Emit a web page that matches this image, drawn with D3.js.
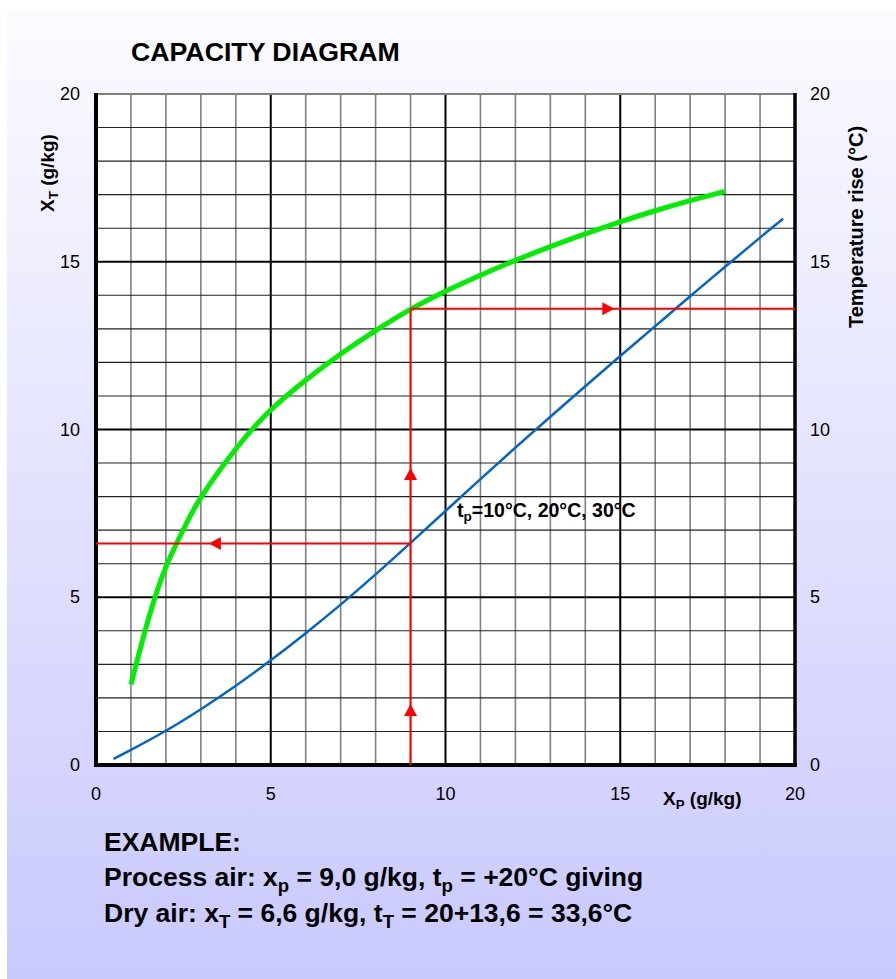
<!DOCTYPE html>
<html>
<head>
<meta charset="utf-8">
<script src="https://cdn.jsdelivr.net/npm/d3@7"></script>
<style>
  html, body { margin: 0; padding: 0; background: #fff; }
  svg { display: block; font-family: Arial, "Liberation Sans", sans-serif; }
</style>
</head>
<body>
<script>
// data
const greenX = [1, 1.5, 2, 2.5, 3, 4, 5, 6, 7, 8, 9, 10, 11, 12, 13, 14, 15, 16, 17, 18];
const greenY = [2.4, 4.35, 5.9, 7.02, 7.97, 9.42, 10.58, 11.47, 12.25, 12.95, 13.58, 14.12, 14.6, 15.04, 15.45, 15.83, 16.19, 16.52, 16.82, 17.1];

const blueX = [0.5, 1, 2, 3, 4, 5, 6, 7, 8, 9, 10, 11, 12, 13, 14, 15, 16, 17, 18, 19, 19.66];
const blueY = [0.18, 0.45, 1.02, 1.66, 2.36, 3.12, 3.93, 4.78, 5.68, 6.62, 7.57, 8.52, 9.46, 10.38, 11.29, 12.19, 13.08, 13.97, 14.85, 15.72, 16.28];

// example reading: x_p = 9.0 -> x_T = 6.6, temperature rise 13.6
const exampleXp = 9;
const exampleXt = 6.6;
const exampleRise = 13.6;
// arrowheads [x, y, direction]
const arrows = [[9, 1.82, "up"], [9, 8.85, "up"], [3.23, 6.6, "left"], [14.83, 13.6, "right"]];

const xTicks = [0, 5, 10, 15, 20];
const yTicks = [0, 5, 10, 15, 20];

const width = 896, height = 979;
const marginLeft = 96, marginRight = 101, marginTop = 94, marginBottom = 214;

const svg = d3.select("body").append("svg")
  .attr("width", width)
  .attr("height", height)
  .attr("viewBox", [0, 0, width, height]);

// background gradient
const grad = svg.append("defs").append("linearGradient")
  .attr("id", "bg").attr("x1", 0).attr("y1", 0).attr("x2", 0).attr("y2", 1);
grad.append("stop").attr("offset", "0%").attr("stop-color", "#fbfbff");
grad.append("stop").attr("offset", "100%").attr("stop-color", "#c9c9fd");

svg.append("rect")
  .attr("x", 7).attr("y", 10)
  .attr("width", width - 7).attr("height", height - 10)
  .attr("fill", "url(#bg)");

const x = d3.scaleLinear([0, 20], [marginLeft, width - marginRight]);
const y = d3.scaleLinear([0, 20], [height - marginBottom, marginTop]);

// plot area
svg.append("rect")
  .attr("x", x(0)).attr("y", y(20))
  .attr("width", x(20) - x(0)).attr("height", y(0) - y(20))
  .attr("fill", "#fff");

const grid = svg.append("g");
const units = d3.range(1, 20);

// vertical grid
grid.selectAll(".vx")
  .data(units)
  .join("line")
  .attr("x1", d => x(d)).attr("x2", d => x(d))
  .attr("y1", y(0)).attr("y2", y(20))
  .attr("stroke", d => d % 5 === 0 ? "#000" : "#808080")
  .attr("stroke-width", d => d % 5 === 0 ? 2 : 1.6);

// horizontal grid
grid.selectAll(".hy")
  .data(units)
  .join("line")
  .attr("x1", x(0)).attr("x2", x(20))
  .attr("y1", d => y(d)).attr("y2", d => y(d))
  .attr("stroke", d => d % 5 === 0 ? "#000" : "#222")
  .attr("stroke-width", d => d % 5 === 0 ? 2.2 : 1.1);

// top border
svg.append("line")
  .attr("x1", x(0)).attr("x2", x(20))
  .attr("y1", y(20)).attr("y2", y(20))
  .attr("stroke", "#808080").attr("stroke-width", 2);

// axes lines
svg.append("line")
  .attr("x1", x(0)).attr("x2", x(0)).attr("y1", y(20) - 1).attr("y2", y(0) + 2)
  .attr("stroke", "#000").attr("stroke-width", 4);
svg.append("line")
  .attr("x1", x(20)).attr("x2", x(20)).attr("y1", y(20) - 1).attr("y2", y(0) + 2)
  .attr("stroke", "#000").attr("stroke-width", 3.5);
svg.append("line")
  .attr("x1", x(0) - 2).attr("x2", x(20) + 2).attr("y1", y(0)).attr("y2", y(0))
  .attr("stroke", "#000").attr("stroke-width", 4);

// tick labels
svg.append("g")
  .selectAll("text")
  .data(yTicks)
  .join("text")
  .attr("x", 80).attr("y", d => y(d) + 6)
  .attr("text-anchor", "end")
  .attr("font-size", 18)
  .text(d => d);

svg.append("g")
  .selectAll("text")
  .data(yTicks)
  .join("text")
  .attr("x", 810).attr("y", d => y(d) + 6)
  .attr("font-size", 18)
  .text(d => d);

svg.append("g")
  .selectAll("text")
  .data(xTicks)
  .join("text")
  .attr("x", d => x(d)).attr("y", 800)
  .attr("text-anchor", "middle")
  .attr("font-size", 18)
  .text(d => d);

// text with subscripts
function richText(g, parts, size) {
  parts.forEach(([s, sub], i) => {
    const t = g.append("tspan").text(s);
    if (sub) {
      t.attr("font-size", size * 0.7).attr("dy", size * 0.22);
    } else if (i > 0) {
      t.attr("dy", -size * 0.22);
    }
  });
}

// curves
const line = d3.line().curve(d3.curveNatural);

svg.append("path")
  .attr("d", line(greenX.map((d, i) => [x(d), y(greenY[i])])))
  .attr("fill", "none")
  .attr("stroke", "#00ee00")
  .attr("stroke-width", 5);

svg.append("path")
  .attr("d", line(blueX.map((d, i) => [x(d), y(blueY[i])])))
  .attr("fill", "none")
  .attr("stroke", "#0066cc")
  .attr("stroke-width", 2.5);

// red example path
const red = svg.append("g").attr("stroke", "#ff0000").attr("stroke-width", 2).attr("fill", "none");
red.append("line")
  .attr("x1", x(exampleXp)).attr("x2", x(exampleXp))
  .attr("y1", y(0)).attr("y2", y(exampleRise));
red.append("line")
  .attr("x1", x(exampleXp)).attr("x2", x(20))
  .attr("y1", y(exampleRise)).attr("y2", y(exampleRise));
red.append("line")
  .attr("x1", x(exampleXp)).attr("x2", x(0))
  .attr("y1", y(exampleXt)).attr("y2", y(exampleXt));

const ah = 12, aw = 6.5;
svg.append("g")
  .selectAll("path")
  .data(arrows)
  .join("path")
  .attr("fill", "#ff0000")
  .attr("d", ([ax, ay, dir]) => {
    const px = x(ax), py = y(ay);
    if (dir === "up") return `M${px},${py}L${px - aw},${py + ah}L${px + aw},${py + ah}Z`;
    if (dir === "left") return `M${px},${py}L${px + ah},${py - aw}L${px + ah},${py + aw}Z`;
    return `M${px},${py}L${px - ah},${py - aw}L${px - ah},${py + aw}Z`;
  });

// annotation
richText(svg.append("text")
  .attr("x", 457).attr("y", 517)
  .attr("font-size", 19.5).attr("font-weight", "bold"),
  [["t", false], ["p", true], ["=10°C, 20°C, 30°C", false]], 19.5);

// title
svg.append("text")
  .attr("x", 131).attr("y", 61)
  .attr("font-size", 26.7).attr("font-weight", "bold")
  .text("CAPACITY DIAGRAM");

// axis titles
richText(svg.append("text")
  .attr("transform", "translate(54,173) rotate(-90)")
  .attr("text-anchor", "middle")
  .attr("font-size", 19).attr("font-weight", "bold"),
  [["X", false], ["T", true], [" (g/kg)", false]], 19);

svg.append("text")
  .attr("transform", "translate(863,227) rotate(-90)")
  .attr("text-anchor", "middle")
  .attr("font-size", 20).attr("font-weight", "bold")
  .text("Temperature rise (°C)");

richText(svg.append("text")
  .attr("x", 663).attr("y", 805)
  .attr("font-size", 19).attr("font-weight", "bold"),
  [["X", false], ["P", true], [" (g/kg)", false]], 19);

// example text
const ex = svg.append("g").attr("font-size", 26.5).attr("font-weight", "bold");
ex.append("text").attr("x", 104).attr("y", 851).text("EXAMPLE:");
richText(ex.append("text").attr("x", 104).attr("y", 886),
  [["Process air: x", false], ["p", true], [" = 9,0 g/kg, t", false], ["p", true], [" = +20°C giving", false]], 26.5);
richText(ex.append("text").attr("x", 104).attr("y", 922),
  [["Dry air: x", false], ["T", true], [" = 6,6 g/kg, t", false], ["T", true], [" = 20+13,6 = 33,6°C", false]], 26.5);
</script>
</body>
</html>
